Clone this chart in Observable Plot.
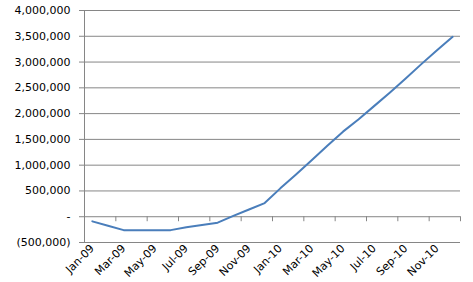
<!DOCTYPE html>
<html><head><meta charset="utf-8">
<script src="https://cdn.jsdelivr.net/npm/d3@7"></script>
<script src="https://cdn.jsdelivr.net/npm/@observablehq/plot@0.6"></script>
<style>body{margin:0;background:#fff}</style>
</head><body><div id="chart"></div>
<script>
const months = ["Jan-09","Feb-09","Mar-09","Apr-09","May-09","Jun-09","Jul-09","Aug-09","Sep-09","Oct-09","Nov-09","Dec-09",
                "Jan-10","Feb-10","Mar-10","Apr-10","May-10","Jun-10","Jul-10","Aug-10","Sep-10","Oct-10","Nov-10","Dec-10"];
const values = [-90000,-175000,-260000,-260000,-260000,-260000,-205000,-160000,-115000,15000,140000,265000,
                550000,820000,1095000,1375000,1650000,1890000,2150000,2410000,2680000,2960000,3230000,3490000];
const yTicks = [-500000,0,500000,1000000,1500000,2000000,2500000,3000000,3500000,4000000];
const labelIdx = d3.range(0, months.length, 2);
const boundaryTicks = d3.range(-0.5, months.length + 0.5, 2);

const data = months.map((m, i) => ({i, month: m, value: values[i]}));
const fmt = d3.format(",");
const yFormat = d => d === 0 ? "-" : d < 0 ? `(${fmt(-d)})` : fmt(d);
const grey = "#868686";

const chart = Plot.plot({
  width: 473,
  height: 282,
  marginLeft: 84,
  marginRight: 13,
  marginTop: 10,
  marginBottom: 40,
  style: {fontFamily: "DejaVu Sans", fontSize: "11px", color: "#000", background: "#fff"},
  x: {type: "linear", domain: [-0.5, months.length - 0.5], label: null},
  y: {domain: [-500000, 4000000], label: null},
  marks: [
    Plot.ruleY(yTicks, {stroke: grey, strokeWidth: 1}),
    Plot.ruleX([-0.5], {stroke: grey}),
    Plot.ruleX(boundaryTicks, {x: d => d, y1: 0, y2: 0, insetBottom: -5, stroke: grey}),
    Plot.axisY(yTicks, {tickFormat: yFormat, tickSize: 5, tickPadding: 9, stroke: grey, fill: "#000", label: null}),
    Plot.axisX(labelIdx, {tickFormat: i => months[i], tickRotate: -45, tickSize: 0, tickPadding: 4, fill: "#000", label: null}),
    Plot.line(data, {x: "i", y: "value", stroke: "#4A7EBB", strokeWidth: 2})
  ]
});
document.getElementById("chart").appendChild(chart);
</script>
</body></html>
